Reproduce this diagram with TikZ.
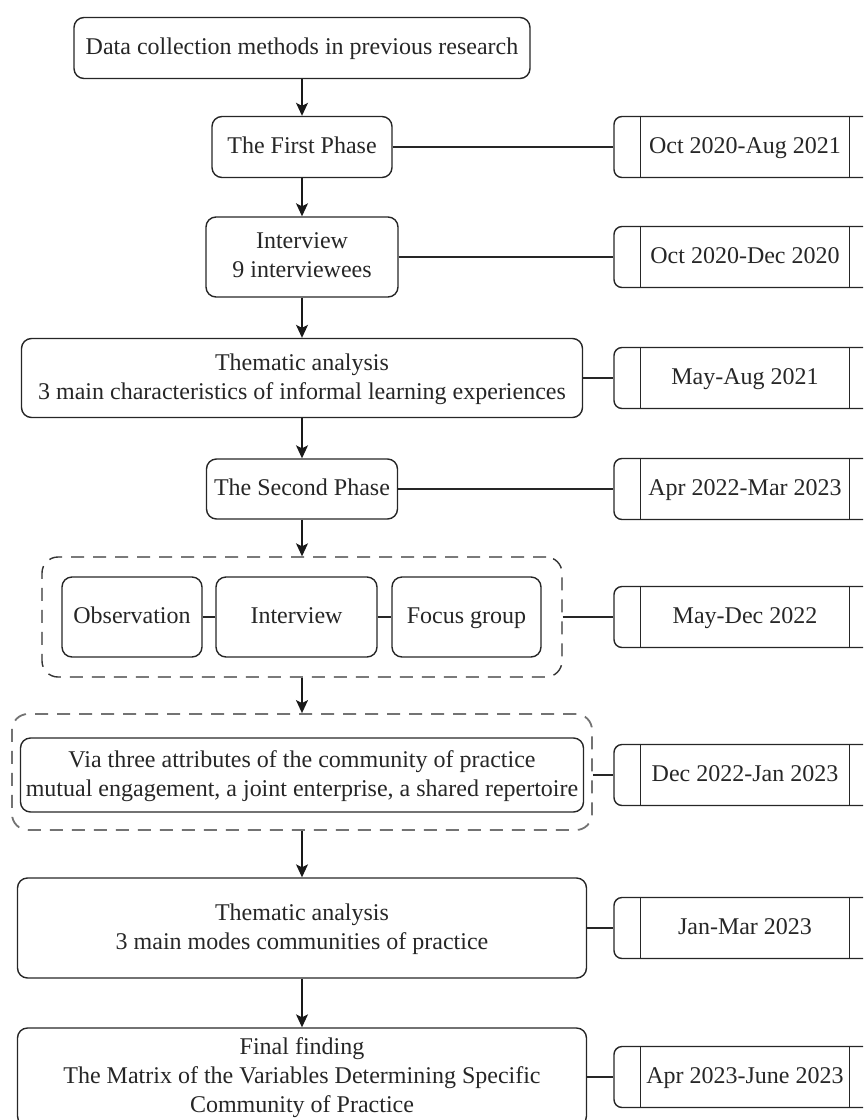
\documentclass[tikz,border=0pt]{standalone}
\usepackage{fontspec}
\setmainfont{Liberation Serif}
\usetikzlibrary{arrows.meta}
\begin{document}
\begin{tikzpicture}[x=1pt,y=-1pt,
  every node/.style={font=\fontsize{24}{29}\selectfont, text=black!85, text depth=3.5pt},
  stepbox/.style={draw=black!85, line width=1.4pt, rounded corners=10pt, align=center, inner sep=0pt},
  group/.style={draw=black!80, line width=1.4pt, rounded corners=16pt, dash pattern=on 13pt off 9pt, inner sep=0pt},
  datebox/.style={draw=black!85, line width=1.4pt, rounded corners=8pt, minimum width=262pt, minimum height=61pt, inner sep=0pt},
  flow/.style={draw=black!90, line width=1.4pt, -{Stealth[length=13pt,width=12pt,inset=3pt]}},
  link/.style={draw=black!85, line width=1.4pt}
]
\useasboundingbox (0,0) rectangle (863,1120);
\clip (0,0) rectangle (863,1120);

% main column
\node[stepbox, minimum width=456pt, minimum height=61pt] (b1) at (302,48) {Data collection methods in previous research};
\node[stepbox, minimum width=180pt, minimum height=61pt] (b2) at (302,147) {The First Phase};
\node[stepbox, minimum width=192pt, minimum height=80pt] (b3) at (302,257) {Interview\\9 interviewees};
\node[stepbox, minimum width=561pt, minimum height=79pt] (b4) at (302,378) {Thematic analysis\\3 main characteristics of informal learning experiences};
\node[stepbox, minimum width=191pt, minimum height=60pt] (b5) at (302,489) {The Second Phase};

% first group of methods
\node[group, minimum width=520pt, minimum height=120pt] (g1) at (302,617) {};
\node[stepbox, minimum width=140pt, minimum height=80pt] (o1) at (132,617) {Observation};
\node[stepbox, minimum width=161pt, minimum height=80pt] (o2) at (296.5,617) {Interview};
\node[stepbox, minimum width=149pt, minimum height=80pt] (o3) at (466.5,617) {Focus group};

% second group
\node[group, draw=black!55, line width=1.8pt, minimum width=580pt, minimum height=116pt] (g2) at (302,772) {};
\node[stepbox, minimum width=563pt, minimum height=74pt] (b6) at (302,775) {Via three attributes of the community of practice\\mutual engagement, a joint enterprise, a shared repertoire};

\node[stepbox, minimum width=569pt, minimum height=100pt] (b7) at (302,928) {Thematic analysis\\3 main modes communities of practice};
\node[stepbox, minimum width=569pt, minimum height=98pt] (b8) at (302,1077) {Final finding\\The Matrix of the Variables Determining Specific\\Community of Practice};

% time line boxes
\node[datebox] (d1) at (745,147) {Oct 2020-Aug 2021};
\node[datebox] (d2) at (745,257) {Oct 2020-Dec 2020};
\node[datebox] (d3) at (745,378) {May-Aug 2021};
\node[datebox] (d4) at (745,489) {Apr 2022-Mar 2023};
\node[datebox] (d5) at (745,617) {May-Dec 2022};
\node[datebox] (d6) at (745,775) {Dec 2022-Jan 2023};
\node[datebox] (d7) at (745,928) {Jan-Mar 2023};
\node[datebox] (d8) at (745,1077) {Apr 2023-June 2023};
\foreach \d in {d1,d2,d3,d4,d5,d6,d7,d8}{
  \draw[link] ([xshift=27pt]\d.north west) -- ([xshift=27pt]\d.south west);
  \draw[link] ([xshift=-27pt]\d.north east) -- ([xshift=-27pt]\d.south east);
}

% flow arrows
\draw[flow] (b1.south) -- (b2.north);
\draw[flow] (b2.south) -- (b3.north);
\draw[flow] (b3.south) -- (b4.north);
\draw[flow] (b4.south) -- (b5.north);
\draw[flow] (b5.south) -- (g1.north);
\draw[flow] (g1.south) -- (g2.north);
\draw[flow] (g2.south) -- (b7.north);
\draw[flow] (b7.south) -- (b8.north);

% links between methods
\draw[link] (o1.east) -- (o2.west);
\draw[link] (o2.east) -- (o3.west);

% links to the time line
\draw[link] (b2.east) -- (d1.west);
\draw[link] (b3.east) -- (d2.west);
\draw[link] (b4.east) -- (d3.west);
\draw[link] (b5.east) -- (d4.west);
\draw[link] (g1.east) -- (d5.west);
\draw[link] (g2.east |- d6.west) -- (d6.west);
\draw[link] (b7.east) -- (d7.west);
\draw[link] (b8.east) -- (d8.west);
\end{tikzpicture}
\end{document}
